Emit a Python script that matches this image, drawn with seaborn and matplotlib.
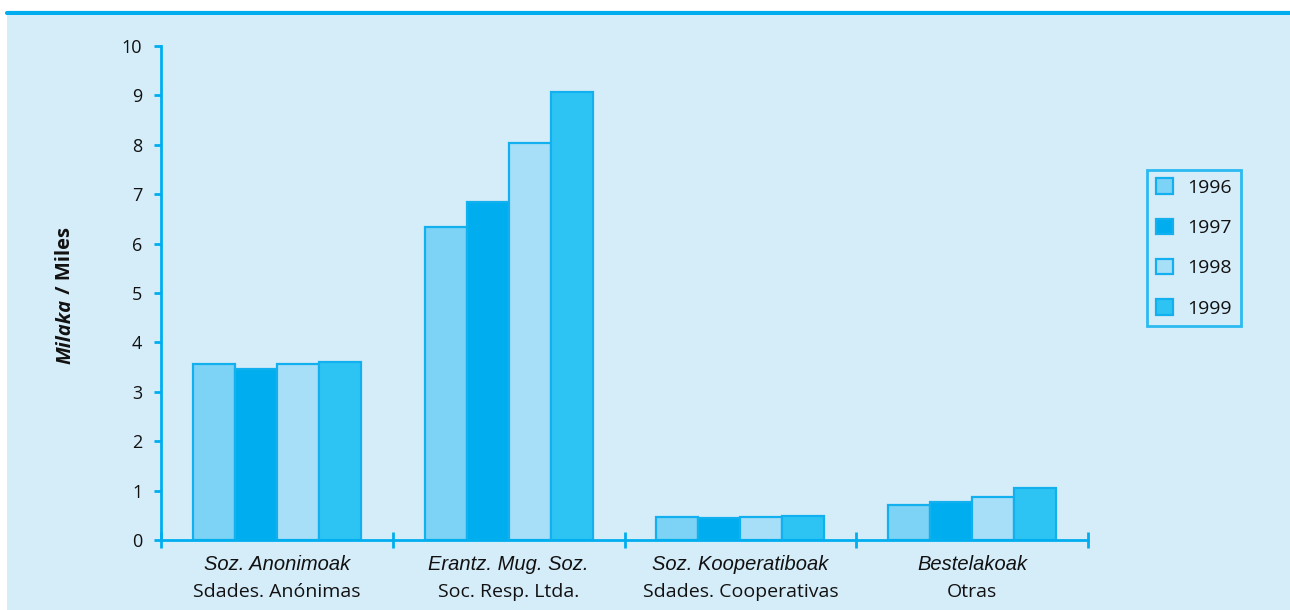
import matplotlib
matplotlib.use("Agg")
import matplotlib.pyplot as plt
import matplotlib.patches as mpatches
import matplotlib.lines as mlines
import matplotlib.transforms as mtransforms
import seaborn as sns
import pandas as pd

# data
categories = ["Soz. Anonimoak", "Erantz. Mug. Soz.", "Soz. Kooperatiboak", "Bestelakoak"]
categories_es = ["Sdades. Anónimas", "Soc. Resp. Ltda.", "Sdades. Cooperativas", "Otras"]
years = ["1996", "1997", "1998", "1999"]
v1996 = [3.57, 6.34, 0.46, 0.71]
v1997 = [3.47, 6.84, 0.45, 0.77]
v1998 = [3.57, 8.04, 0.47, 0.88]
v1999 = [3.61, 9.07, 0.49, 1.05]
yticks = list(range(0, 11))

colors = {"1996": "#7DD3F5", "1997": "#00AEEF", "1998": "#A8DFF8", "1999": "#2DC4F4"}
edge = "#12B0EE"
blue = "#00AEEF"
bg = "#D5ECF9"
ink = "#111111"

rows = []
for y, vals in zip(years, [v1996, v1997, v1998, v1999]):
    for c, v in zip(categories, vals):
        rows.append({"cat": c, "year": y, "value": v})
df = pd.DataFrame(rows)

sns.set_style("white")
plt.rcParams['font.family'] = ['Open Sans', 'DejaVu Sans']
plt.rcParams['text.color'] = ink
plt.rcParams['ytick.color'] = ink

fig = plt.figure(figsize=(12.9, 6.1), dpi=100)
fig.patch.set_facecolor("white")

# light blue panel and top rule (behind the axes)
fig.patches.append(mpatches.Rectangle((7 / 1290, 0), 1, 1 - 15 / 610, transform=fig.transFigure,
                                      facecolor=bg, edgecolor="none", zorder=-10))
fig.lines.append(mlines.Line2D([7 / 1290, 1], [1 - 13 / 610, 1 - 13 / 610], transform=fig.transFigure,
                               color=blue, linewidth=3, zorder=-10))

ax = fig.add_axes([161 / 1290, 1 - 540 / 610, (1088 - 161) / 1290, (540 - 46) / 610])
ax.set_facecolor("none")

sns.barplot(data=df, x="cat", y="value", hue="year", palette=colors, width=0.725,
            edgecolor=edge, linewidth=1.6, ax=ax, legend=False, saturation=1)

ax.set_xlim(-0.5, 3.5)
ax.set_ylim(0, 10)
ax.set_yticks(yticks)
ax.set_yticklabels([str(t) for t in yticks], fontsize=13, color=ink)
ax.set_xticks([-0.5, 0.5, 1.5, 2.5, 3.5])
ax.set_xticklabels([])

for side in ["top", "right"]:
    ax.spines[side].set_visible(False)
for side in ["left", "bottom"]:
    ax.spines[side].set_color(blue)
    ax.spines[side].set_linewidth(2)
ax.tick_params(axis="y", left=True, direction="out", length=5, width=2, color=blue, pad=8.5)
ax.tick_params(axis="x", bottom=True, direction="inout", length=12, width=2, color=blue)
ax.set_xlabel("")
ax.set_ylabel("")

# two-line category labels
trans = mtransforms.blended_transform_factory(ax.transData, fig.transFigure)
for i, (eu, es) in enumerate(zip(categories, categories_es)):
    ax.text(i, 1 - 565 / 610, eu, transform=trans, ha="center", va="center",
            fontsize=14.5, style="italic", family=["Liberation Sans", "DejaVu Sans"])
    ax.text(i, 1 - 592 / 610, es, transform=trans, ha="center", va="center", fontsize=14)

# y label: "Milaka" bold italic, "/ Miles" bold (reads bottom to top)
fig.text(65 / 1290, 1 - 299 / 610, "Milaka", rotation=90, ha="center", va="top",
         fontsize=14.5, fontweight="bold", style="italic")
fig.text(65 / 1290, 1 - 299 / 610, " / Miles", rotation=90, ha="center", va="bottom",
         fontsize=14.5, fontweight="bold")

handles = [mpatches.Patch(facecolor=colors[y], edgecolor=edge, linewidth=1.6, label=y) for y in years]
leg = fig.legend(handles=handles, loc="center", bbox_to_anchor=(1194 / 1290, 1 - 248 / 610),
                 frameon=True, fontsize=14, labelspacing=1.12, handlelength=0.85, handleheight=0.85,
                 handletextpad=0.75, borderpad=0.45, fancybox=False, borderaxespad=0)
leg.get_frame().set_edgecolor(blue)
leg.get_frame().set_linewidth(2)
leg.get_frame().set_facecolor(bg)

fig.savefig("out.png", dpi=100, facecolor=fig.get_facecolor())
